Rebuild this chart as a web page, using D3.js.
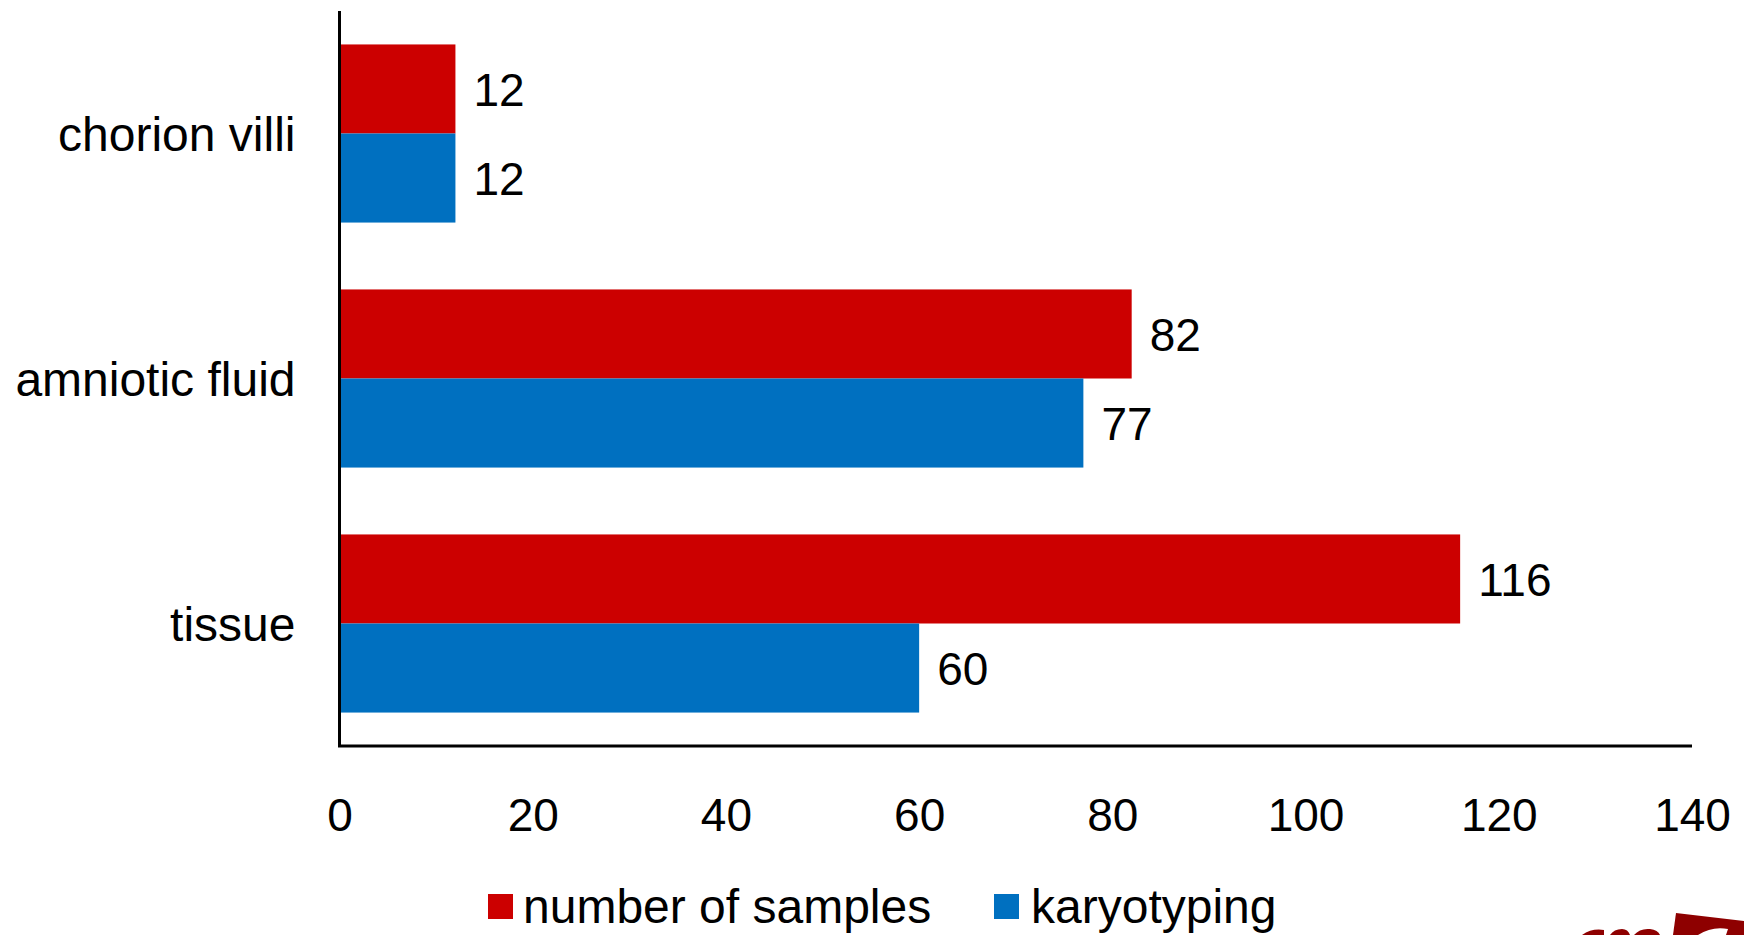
<!DOCTYPE html>
<html>
<head>
<meta charset="utf-8">
<script src="https://cdn.jsdelivr.net/npm/d3@7"></script>
<style>
  html, body { margin: 0; padding: 0; background: #fff; overflow: hidden; }
  svg { display: block; }
  text { font-family: "Liberation Sans", Arial, sans-serif; fill: #000; }
</style>
</head>
<body>
<svg id="chart" width="1744" height="935"></svg>
<script>
// ---- data ----
const categories = ["chorion villi", "amniotic fluid", "tissue"];
const seriesNames = ["number of samples", "karyotyping"];
const samplesValues = [12, 82, 116];
const karyotypingValues = [12, 77, 60];
const xTicks = [0, 20, 40, 60, 80, 100, 120, 140];
const seriesColors = ["#CC0000", "#0070C0"];

const series = [samplesValues, karyotypingValues];

const svg = d3.select("#chart");
const margin = { left: 339.5, right: 52, top: 11, bottom: 189 };
const W = 1744, H = 935;

const x = d3.scaleLinear()
  .domain([0, 140])
  .range([margin.left, W - margin.right]);

const y = d3.scaleBand()
  .domain(categories)
  .range([margin.top, H - margin.bottom])
  .paddingInner(0.273)
  .paddingOuter(0.1365);

const ySub = d3.scaleBand()
  .domain(d3.range(series.length))
  .range([0, y.bandwidth()]);

// bars
const groups = svg.append("g").selectAll("g")
  .data(categories)
  .join("g")
  .attr("transform", d => `translate(0,${y(d)})`);

groups.selectAll("rect")
  .data((d, i) => series.map((s, j) => ({ v: s[i], j })))
  .join("rect")
  .attr("x", x(0))
  .attr("y", d => ySub(d.j))
  .attr("width", d => x(d.v) - x(0))
  .attr("height", ySub.bandwidth())
  .attr("fill", d => seriesColors[d.j]);

groups.selectAll("text.val")
  .data((d, i) => series.map((s, j) => ({ v: s[i], j })))
  .join("text")
  .attr("class", "val")
  .attr("x", d => x(d.v) + 18)
  .attr("y", d => ySub(d.j) + ySub.bandwidth() / 2)
  .attr("dy", "0.37em")
  .attr("font-size", 46)
  .text(d => d.v);

// y axis (category labels)
const yAxis = d3.axisLeft(y).tickSize(0).tickPadding(44);
const gy = svg.append("g")
  .attr("transform", `translate(${x(0)},0)`)
  .call(yAxis);
gy.select(".domain").remove();
gy.selectAll("text")
  .attr("font-size", 48)
  .attr("font-family", "'Liberation Sans', Arial, sans-serif")
  .attr("dy", "0.36em")
  .attr("fill", "#000");

svg.append("line")
  .attr("x1", x(0)).attr("x2", x(0))
  .attr("y1", margin.top).attr("y2", H - margin.bottom)
  .attr("stroke", "#000").attr("stroke-width", 3);

// x axis
const xAxis = d3.axisBottom(x).tickValues(xTicks).tickSize(0).tickPadding(52);
const gx = svg.append("g")
  .attr("transform", `translate(0,${H - margin.bottom})`)
  .call(xAxis);
gx.select(".domain").remove();
gx.selectAll("text")
  .attr("font-size", 46)
  .attr("font-family", "'Liberation Sans', Arial, sans-serif")
  .attr("fill", "#000");

svg.append("line")
  .attr("x1", x(0) - 1.5).attr("x2", x(140))
  .attr("y1", H - margin.bottom).attr("y2", H - margin.bottom)
  .attr("stroke", "#000").attr("stroke-width", 3);

// legend
const legendX = [488, 994];
const legend = svg.append("g").selectAll("g")
  .data(seriesNames)
  .join("g")
  .attr("transform", (d, i) => `translate(${legendX[i]},894)`);
legend.append("rect")
  .attr("width", 25).attr("height", 25)
  .attr("fill", (d, i) => seriesColors[i]);
legend.append("text")
  .attr("x", (d, i) => i === 0 ? 35 : 37)
  .attr("y", 29)
  .attr("font-size", 48)
  .text(d => d);

// decorative logo fragment (bottom-right corner)
const logo = svg.append("g").attr("fill", "#8E0000");
logo.append("path").attr("d", "M1676,913 L1744,921 L1744,935 L1673,935 Z");
logo.append("path").attr("d", "M1698,935 Q1712,926 1728,929 L1726,935 Z").attr("fill", "#fff");
logo.append("path").attr("d", "M1582,935 Q1592,928 1604,930 L1604,935 Z");
logo.append("path").attr("d", "M1610,935 Q1614,929 1622,929 Q1628,929 1630,935 Z");
logo.append("path").attr("d", "M1634,935 Q1640,928 1650,929 Q1658,930 1660,935 Z");
</script>
</body>
</html>
